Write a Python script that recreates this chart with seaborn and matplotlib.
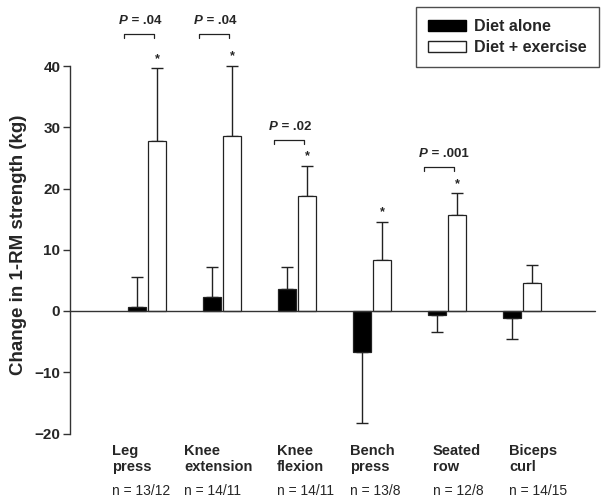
import numpy as np
import matplotlib
matplotlib.use("Agg")
import matplotlib.pyplot as plt
import seaborn as sns
import pandas as pd
from matplotlib.patches import Patch

# data
exercises = ["Leg press", "Knee extension", "Knee flexion", "Bench press", "Seated row", "Biceps curl"]
label_lines = ["Leg\npress", "Knee\nextension", "Knee\nflexion", "Bench\npress", "Seated\nrow", "Biceps\ncurl"]
n_labels = ["n = 13/12", "n = 14/11", "n = 14/11", "n = 13/8", "n = 12/8", "n = 14/15"]
diet_alone = [0.6, 2.3, 3.6, -6.7, -0.7, -1.2]
diet_alone_err = [5.0, 4.9, 3.6, 11.6, 2.8, 3.4]
diet_ex = [27.7, 28.6, 18.8, 8.3, 15.7, 4.5]
diet_ex_err = [11.9, 11.4, 4.9, 6.2, 3.5, 3.0]
signif = [True, True, True, True, True, False]
p_values = ["= .04", "= .04", "= .02", None, "= .001", None]

sns.set_style("white")
plt.rcParams["font.family"] = ["Liberation Sans", "DejaVu Sans"]

df = pd.DataFrame({
    "Exercise": exercises * 2,
    "Group": ["Diet alone"] * 6 + ["Diet + exercise"] * 6,
    "Change": diet_alone + diet_ex,
})

fig = plt.figure(figsize=(6.04, 5.04), dpi=100)
ax = fig.add_axes([0, 0, 1, 1])
sns.barplot(data=df, x="Exercise", y="Change", hue="Group", order=exercises,
            palette=["black", "white"], width=0.54, gap=0.13, errorbar=None,
            edgecolor="#222222", linewidth=0.9, legend=False, ax=ax, zorder=3)

# pixel -> data helpers (x: 75 px per group, center of first at 147 px)
xlim = (-147 / 75, (604 - 147) / 75)
ylim = ((311 - 504) / 6.125, 311 / 6.125)
ax.set_xlim(xlim)
ax.set_ylim(ylim)
px = lambda p: (p - 147) / 75
py = lambda p: (311 - p) / 6.125

off = 0.135
xs = np.arange(len(exercises))
ecol = "#222222"
# one-sided error bars
ax.errorbar(xs - off, diet_alone,
            yerr=[[e if v < 0 else 0 for v, e in zip(diet_alone, diet_alone_err)],
                  [e if v >= 0 else 0 for v, e in zip(diet_alone, diet_alone_err)]],
            fmt="none", ecolor=ecol, elinewidth=1.0, capsize=4, capthick=1.0, zorder=2)
ax.errorbar(xs + off, diet_ex, yerr=[[0] * 6, diet_ex_err],
            fmt="none", ecolor=ecol, elinewidth=1.0, capsize=4, capthick=1.0, zorder=2)

# significance stars
for i, s in enumerate(signif):
    if s:
        ax.text(i + off, diet_ex[i] + diet_ex_err[i] + 0.6, "*", ha="center", va="bottom",
                fontsize=9, fontweight="bold")

# P-value brackets
bracket_y = [45.2, 45.2, 27.9, None, 23.5, None]
for i, p in enumerate(p_values):
    if p is None:
        continue
    yb = bracket_y[i]
    x0, x1 = i - 0.31, i + 0.1
    ax.plot([x0, x0, x1, x1], [yb - 0.7, yb, yb, yb - 0.7], color=ecol, lw=0.9)
    t = ax.text(x0 - 0.06, yb + 1.2, "P", fontsize=9.5, fontweight="bold", fontstyle="italic",
                ha="left", va="bottom")
    ax.annotate(" " + p, xy=(1, 0), xycoords=t, fontsize=9.5, fontweight="bold",
                ha="left", va="bottom")

# axes: y spine between -20 and 40, zero line across
for sp in ["top", "right", "bottom"]:
    ax.spines[sp].set_visible(False)
ax.spines["left"].set_position(("data", px(70)))
ax.spines["left"].set_bounds(-20, 40)
ax.spines["left"].set_color("#333333")
ax.spines["left"].set_linewidth(1.0)
ax.set_yticks([-20, -10, 0, 10, 20, 30, 40])
ax.tick_params(axis="y", direction="out", length=5, width=1.0, color="#333333",
               labelsize=11, pad=2, left=True)
for lab in ax.get_yticklabels():
    lab.set_fontweight("bold")
ax.set_xticks([])
ax.set_xlabel("")
ax.set_ylabel("")
ax.plot([px(70), px(595)], [0, 0], color="#333333", lw=1.0, zorder=4)

ax.text(px(19), py(245), "Change in 1-RM strength (kg)", rotation=90, ha="center", va="center",
        fontsize=13.5, fontweight="bold")

# category labels
label_left = [112, 184, 277, 350, 433, 509]
for i in range(len(exercises)):
    ax.text(px(label_left[i]), py(444), label_lines[i], ha="left", va="top",
            fontsize=10.5, fontweight="bold", linespacing=1.2)
    ax.text(px(label_left[i]), py(491), n_labels[i], ha="left", va="center", fontsize=10)

handles = [Patch(facecolor="black", edgecolor="black", label="Diet alone"),
           Patch(facecolor="white", edgecolor="#222222", label="Diet + exercise")]
leg = fig.legend(handles=handles, loc="upper right", bbox_to_anchor=(599 / 604, 1 - 7 / 504),
                 frameon=True, fancybox=False, edgecolor="#222222",
                 prop={"weight": "bold", "size": 11.5}, handlelength=2.4, handleheight=0.7,
                 borderpad=0.75, labelspacing=0.4, handletextpad=0.5, borderaxespad=0)
leg.get_frame().set_linewidth(1.0)

fig.savefig("out.png", dpi=100)
